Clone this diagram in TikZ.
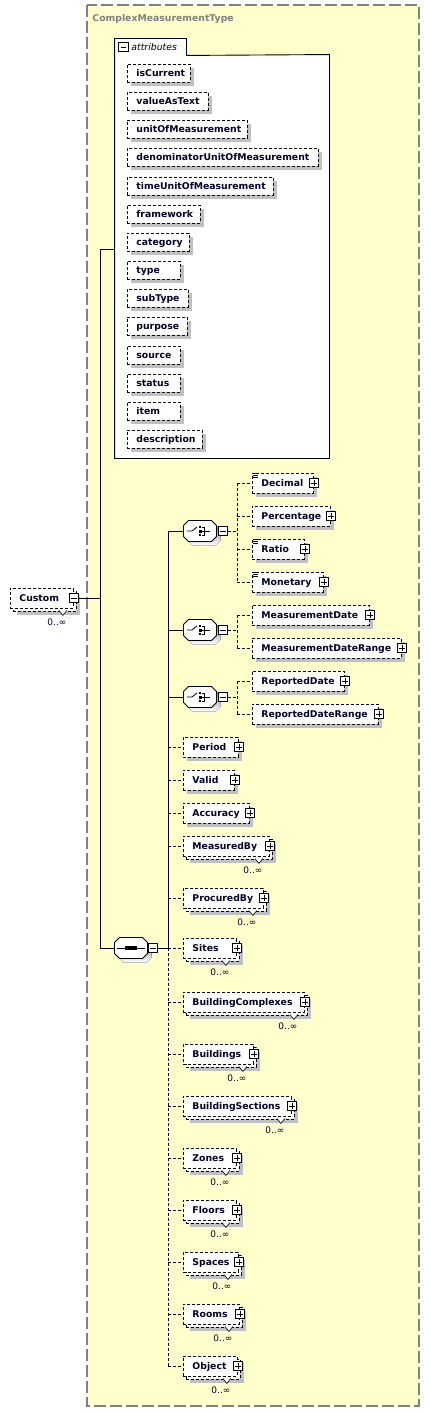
\documentclass[tikz,border=0pt]{standalone}
\usepackage{fontspec}
\setmainfont{DejaVu Sans}
\usetikzlibrary{shadows}
\definecolor{paper}{RGB}{255, 255, 204}
\definecolor{rim}{RGB}{128, 128, 128}
\definecolor{shade}{RGB}{192, 192, 192}
\definecolor{ink}{RGB}{0, 0, 40}

\tikzset{
  octa/.pic={
    \fill[shade, shift={(4, 4)}] (-11.5, -10.5) -- (11.5, -10.5) -- (16.5, -5.5) -- (16.5, 5.5)
      -- (11.5, 10.5) -- (-11.5, 10.5) -- (-16.5, 5.5) -- (-16.5, -5.5) -- cycle;
    \draw[fill=white] (-11.5, -10.5) -- (11.5, -10.5) -- (16.5, -5.5) -- (16.5, 5.5)
      -- (11.5, 10.5) -- (-11.5, 10.5) -- (-16.5, 5.5) -- (-16.5, -5.5) -- cycle;
  },
  choicemark/.pic={
    \draw[line width=0.8pt] (-13, 0) -- (-8, 0) -- (-3, -4);
    \fill (-1, -5) rectangle (1, -3);
    \fill (-1.5, -1.5) rectangle (1.5, 1.5);
    \fill (-1, 3) rectangle (1, 5);
    \draw[line width=0.8pt] (2, -4) -- (4, -4) -- (4, 4) -- (2, 4) (1, 0) -- (10, 0);
  },
  seqmark/.pic={
    \draw[line width=0.7pt] (-14, 0) -- (14, 0);
    \foreach \dx in {-4, 0, 4} {
      \fill (\dx-1.6, -1.6) rectangle (\dx+1.6, 1.6);
    }
  }
}

\begin{document}
\begin{tikzpicture}[x=1pt, y=-1pt, line width=0.9pt,
  dash3/.style={dash pattern=on 3pt off 2pt},
  shadowed/.style={drop shadow={shadow xshift=4pt, shadow yshift=-4pt, fill=shade, opacity=1, draw=none}},
  elem/.style={draw, dash3, fill=white, minimum height=20pt, inner sep=0pt, anchor=west},
  attr/.style={elem, minimum height=18pt, shadowed},
  etext/.style={anchor=base west, inner sep=0pt, text=ink, font=\bfseries\fontsize{9.3}{11}\selectfont},
  multi/.style={inner sep=0pt, text=ink, font=\fontsize{9}{10}\selectfont},
  notch/.style={solid, fill=white, line width=0.6pt},
  pm/.style={draw, solid, fill=white, minimum size=9.5pt, inner sep=0pt, line width=0.7pt},
  plusbox/.style={pm, path picture={
      \draw[line width=0.7pt] ([xshift=2pt]path picture bounding box.west) -- ([xshift=-2pt]path picture bounding box.east)
        ([yshift=2pt]path picture bounding box.south) -- ([yshift=-2pt]path picture bounding box.north);}},
  minusbox/.style={pm, path picture={
      \draw[line width=0.7pt] ([xshift=2pt]path picture bounding box.west) -- ([xshift=-2pt]path picture bounding box.east);}},
  compo/.style={minimum width=33pt, minimum height=21pt, inner sep=0pt}
  ]

  \useasboundingbox (0, 0) rectangle (430, 1412);

  % complex type frame
  \draw[rim, fill=paper, line width=1.2pt, dash pattern=on 12pt off 4pt] (87, 5) rectangle (419, 1406);
  \node[anchor=base west, inner sep=0pt, text=rim, font=\bfseries\fontsize{9.3}{11}\selectfont] (title) at (92, 21.4) {ComplexMeasurementType};

  % attributes
  \node[fill=white, minimum width=214pt, minimum height=403pt, inner sep=0pt] (attrs) at (222, 256.5) {};
  \node[fill=white, minimum width=71pt, minimum height=16pt, inner sep=0pt] (attrtab) at (150.5, 47) {};
  \draw (attrs.south west) -- (attrtab.north west) -- (attrtab.north east) -- (attrtab.south east)
    -- (attrs.north east) -- (attrs.south east) -- cycle;
  \node[minusbox] (attrtab-m) at (123.5, 47) {};
  \node[anchor=base west, inner sep=0pt, font=\itshape\fontsize{9.3}{11}\selectfont] (attrtab-t) at (131, 50.4) {attributes};

  \foreach \lab/\y/\w in {isCurrent/73/63, valueAsText/101/81, unitOfMeasurement/129/120,
      denominatorUnitOfMeasurement/157/191, timeUnitOfMeasurement/186/146, framework/214/73,
      category/242/62, type/270/53, subType/298/61, purpose/326/60, source/355/53,
      status/383/53, item/411/53, description/439/75} {
    \node[attr, minimum width=\w pt] (\lab) at (127, \y) {};
    \node[etext] (\lab-t) at ([xshift=9pt, yshift=-3.4pt]\lab.west) {\lab};
  }

  % root element
  \node[elem, shadowed, minimum width=63pt] (Custom-b) at (13, 601) {};
  \node[elem, minimum width=63pt] (Custom) at (10, 598) {};
  \node[etext] (Custom-t) at ([xshift=9pt, yshift=-3.4pt]Custom.west) {Custom};
  \node[minusbox] (Custom-m) at (Custom.east) {};
  \draw[notch] ([xshift=-15pt, yshift=-2pt]Custom.south east) -- ++(4, 5) -- ++(4, -5);
  \node[multi] (Custom-n) at ([xshift=-17pt, yshift=-14pt]Custom.south east) {0..∞};

  % trunk
  \coordinate (hubA) at (100, 249);
  \coordinate (hubB) at (100, 948);
  \draw (Custom-m.east) -- (Custom-m.east -| hubA);
  \draw (hubA) -- (attrs.west |- hubA);

  % sequence
  \node[compo] (seq) at (131, 948) {};
  \pic at (seq) {octa};
  \pic at (seq) {seqmark};
  \node[minusbox] (seq-m) at (153, 948) {};
  \coordinate (bus) at (168, 948);
  \draw (hubA) -- (hubB) -- (seq.west);
  \draw (seq-m.east) -- (bus);

  % choices
  \foreach \c/\y in {A/531, B/630, C/697} {
    \node[compo] (choice\c) at (200, \y) {};
    \pic at (choice\c) {octa};
    \pic at (choice\c) {choicemark};
    \node[minusbox] (choice\c-m) at (223, \y) {};
    \coordinate (cbus\c) at (237, \y);
    \draw (bus |- choice\c) -- (choice\c.west);
    \draw[dash3] (choice\c-m.east) -- (cbus\c);
  }
  \draw (bus |- choiceA) -- (bus);

  \foreach \lab/\y/\w/\c in {Decimal/483/61/A, Percentage/516/78/A, Ratio/549/52/A, Monetary/582/71/A,
      MeasurementDate/615/117/B, MeasurementDateRange/648/149/B,
      ReportedDate/681/92/C, ReportedDateRange/714/126/C} {
    \node[elem, shadowed, minimum width=\w pt] (\lab) at (252, \y) {};
    \node[etext] (\lab-t) at ([xshift=9pt, yshift=-3.4pt]\lab.west) {\lab};
    \node[plusbox] (\lab-p) at (\lab.east) {};
    \draw[dash3] (cbus\c |- \lab.west) -- (\lab.west);
  }
  \draw[dash3] (cbusA |- Decimal.west) -- (cbusA |- Monetary.west);
  \draw[dash3] (cbusB |- MeasurementDate.west) -- (cbusB |- MeasurementDateRange.west);
  \draw[dash3] (cbusC |- ReportedDate.west) -- (cbusC |- ReportedDateRange.west);

  % simple content marks
  \foreach \lab in {Decimal, Ratio, Monetary} {
    \draw[line width=0.6pt] ([xshift=1pt, yshift=-1pt]\lab.north west) -- ++(5, 0)
      ([xshift=1pt, yshift=-3pt]\lab.north west) -- ++(5, 0)
      ([xshift=1pt, yshift=-5pt]\lab.north west) -- ++(5, 0);
  }

  % sequence children
  \foreach \lab/\y/\w in {Period/747/55, Valid/780/51, Accuracy/813/66} {
    \node[elem, shadowed, minimum width=\w pt] (\lab) at (183, \y) {};
    \node[etext] (\lab-t) at ([xshift=9pt, yshift=-3.4pt]\lab.west) {\lab};
    \node[plusbox] (\lab-p) at (\lab.east) {};
    \draw[dash3] (bus |- \lab.west) -- (\lab.west);
  }

  \foreach \lab/\y/\w in {MeasuredBy/846/86, ProcuredBy/898/80, Sites/948/53,
      BuildingComplexes/1002/121, Buildings/1054/70, BuildingSections/1106/108,
      Zones/1158/53, Floors/1210/53, Spaces/1262/55, Rooms/1314/56, Object/1366/54} {
    \node[elem, shadowed, minimum width=\w pt] (\lab-b) at (186, \y+3) {};
    \node[elem, minimum width=\w pt] (\lab) at (183, \y) {};
    \node[etext] (\lab-t) at ([xshift=9pt, yshift=-3.4pt]\lab.west) {\lab};
    \node[plusbox] (\lab-p) at (\lab.east) {};
    \draw[notch] ([xshift=-15pt, yshift=-2pt]\lab.south east) -- ++(4, 5) -- ++(4, -5);
    \node[multi] (\lab-n) at ([xshift=-17pt, yshift=-14pt]\lab.south east) {0..∞};
    \draw[dash3] (bus |- \lab.west) -- (\lab.west);
  }
  \draw[dash3] (bus) -- (bus |- Object.west);

\end{tikzpicture}
\end{document}
